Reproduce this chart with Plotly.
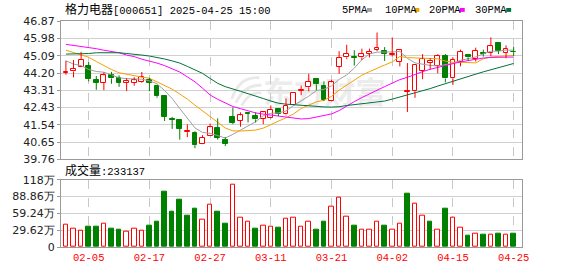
import base64
import plotly.graph_objects as go

# ---------------- data ----------------
dates = ["01-23", "01-24", "01-27",
         "02-05", "02-06", "02-07", "02-10", "02-11", "02-12", "02-13", "02-14", "02-17", "02-18",
         "02-19", "02-20", "02-21", "02-24", "02-25", "02-26", "02-27", "02-28",
         "03-03", "03-04", "03-05", "03-06", "03-07", "03-10", "03-11", "03-12", "03-13", "03-14",
         "03-17", "03-18", "03-19", "03-20", "03-21", "03-24", "03-25", "03-26", "03-27", "03-28", "03-31",
         "04-01", "04-02", "04-03", "04-07", "04-08", "04-09", "04-10", "04-11", "04-14", "04-15",
         "04-16", "04-17", "04-18", "04-21", "04-22", "04-23", "04-24", "04-25"]

open_ = [44.22, 44.28, 44.51, 44.54, 43.85, 43.70, 44.08, 43.95, 43.70, 43.70,
         43.74, 43.82, 43.52, 43.01, 41.84, 41.80, 41.16, 41.13, 40.53, 40.98,
         41.37, 40.78, 41.92, 41.74, 42.13, 41.97, 41.85, 41.90, 42.35, 42.07,
         42.56, 43.28, 43.47, 43.88, 43.55, 42.76, 44.51, 45.00, 45.02, 45.00,
         45.20, 45.40, 45.34, 45.15, 44.77, 43.24, 43.26, 44.30, 44.71, 44.58,
         45.07, 43.92, 44.74, 45.14, 44.91, 45.22, 45.24, 45.73, 45.24, 45.30]
high = [44.83, 44.87, 45.29, 44.76, 44.05, 44.23, 44.26, 44.08, 43.93, 43.98,
        44.25, 43.95, 43.59, 43.06, 41.95, 41.82, 41.57, 41.21, 41.01, 41.61,
        41.87, 40.91, 42.43, 42.18, 42.18, 42.18, 42.20, 42.53, 42.37, 42.89,
        43.20, 43.55, 44.16, 43.91, 43.77, 43.85, 45.32, 45.65, 45.37, 45.45,
        45.45, 46.28, 45.53, 46.03, 45.40, 44.71, 44.65, 45.17, 44.96, 45.17,
        45.17, 45.00, 45.40, 45.15, 45.50, 45.40, 46.03, 45.78, 45.62, 45.53]
low = [44.11, 43.97, 44.50, 43.77, 43.34, 43.32, 43.65, 43.49, 43.27, 43.55,
       43.70, 43.26, 42.93, 41.74, 41.33, 40.78, 40.91, 40.34, 40.52, 40.97,
       40.78, 40.45, 41.57, 41.44, 41.66, 41.66, 41.57, 41.87, 41.99, 42.02,
       42.55, 43.06, 43.26, 43.31, 42.76, 42.75, 44.16, 44.91, 44.58, 44.87,
       45.00, 45.32, 44.82, 45.04, 44.54, 42.20, 42.93, 43.88, 44.38, 44.18,
       43.72, 43.59, 44.54, 44.84, 44.79, 45.04, 45.07, 45.17, 44.96, 45.07]
close = [44.27, 44.43, 44.87, 43.88, 43.69, 44.08, 43.92, 43.69, 43.78, 43.82,
         43.98, 43.70, 43.01, 41.94, 41.80, 41.33, 41.24, 40.50, 40.88, 41.41,
         40.88, 40.55, 41.64, 42.02, 42.10, 41.82, 42.18, 42.30, 42.10, 42.51,
         43.19, 43.31, 43.75, 43.62, 42.81, 43.72, 44.99, 45.17, 44.99, 45.17,
         45.30, 45.48, 45.18, 45.20, 45.37, 43.28, 44.63, 44.91, 44.82, 45.07,
         43.92, 44.87, 45.29, 45.00, 45.34, 45.18, 45.57, 45.32, 45.43, 45.27]
prev_close = 44.10  # close of the session before the first bar (sets first volume colour)

# volume in 万 (10k shares)
volume_wan = [38.5, 32.8, 28.2, 35.1, 35.1, 40.2, 31.7, 30.0, 26.5, 32.8,
              28.2, 37.4, 43.7, 96.7, 62.5, 83.0, 54.5, 68.2, 48.8, 74.5,
              62.5, 41.9, 109.9, 52.2, 45.4, 31.7, 36.8, 35.1, 33.4, 50.5,
              52.2, 35.1, 43.7, 30.0, 43.7, 71.1, 86.5, 53.9, 36.8, 30.0,
              31.1, 43.7, 36.8, 31.1, 40.2, 93.3, 76.2, 55.6, 43.7, 30.0,
              67.6, 52.2, 34.5, 19.7, 23.1, 21.4, 21.4, 23.1, 21.4, 23.3137]

ma5 = [44.82, 44.66, 44.58, 44.38, 44.28, 44.24, 44.11, 43.95, 43.91, 43.91,
       43.88, 43.80, 43.65, 43.30, 42.89, 42.38, 41.88, 41.38, 41.15, 41.10,
       40.99, 40.86, 41.05, 41.27, 41.46, 41.70, 42.01, 42.13, 42.15, 42.25,
       42.53, 42.75, 43.01, 43.30, 43.36, 43.54, 43.87, 44.10, 44.45, 44.88,
       45.18, 45.27, 45.27, 45.28, 45.31, 44.95, 44.72, 44.65, 44.59, 44.56,
       44.62, 44.70, 44.85, 44.92, 45.02, 45.19, 45.32, 45.32, 45.38, 45.37]
ma10 = [45.37, 45.25, 45.15, 45.01, 44.79, 44.58, 44.38, 44.21, 44.13, 44.05,
        43.99, 43.93, 43.75, 43.55, 43.37, 43.12, 42.86, 42.55, 42.27, 41.98,
        41.67, 41.38, 41.23, 41.22, 41.24, 41.27, 41.37, 41.57, 41.73, 41.90,
        42.10, 42.38, 42.56, 42.72, 42.80, 43.00, 43.32, 43.58, 43.86, 44.09,
        44.27, 44.46, 44.61, 44.77, 45.05, 44.99, 44.97, 44.96, 44.95, 44.93,
        44.81, 44.75, 44.75, 44.73, 44.72, 44.93, 45.02, 45.05, 45.08, 45.10]
ma20 = [45.67, 45.62, 45.57, 45.53, 45.45, 45.37, 45.32, 45.24, 45.12, 45.04,
        44.91, 44.82, 44.71, 44.58, 44.41, 44.25, 44.00, 43.75, 43.42, 43.07,
        42.85, 42.67, 42.48, 42.37, 42.26, 42.15, 42.09, 42.04, 41.99, 41.94,
        41.88, 41.84, 41.86, 41.93, 42.00, 42.10, 42.27, 42.51, 42.73, 42.94,
        43.14, 43.32, 43.50, 43.68, 43.86, 43.98, 44.14, 44.27, 44.39, 44.50,
        44.58, 44.68, 44.77, 44.84, 44.92, 44.97, 45.00, 45.00, 45.01, 45.02]
ma30 = [45.17, 45.17, 45.20, 45.20, 45.24, 45.24, 45.24, 45.24, 45.20, 45.17,
        45.12, 45.07, 45.01, 44.92, 44.82, 44.71, 44.54, 44.38, 44.18, 43.92,
        43.67, 43.50, 43.36, 43.26, 43.14, 43.03, 42.89, 42.76, 42.65, 42.60,
        42.57, 42.53, 42.49, 42.48, 42.46, 42.45, 42.47, 42.53, 42.57, 42.61,
        42.66, 42.70, 42.76, 42.86, 42.97, 43.06, 43.16, 43.28, 43.40, 43.53,
        43.66, 43.79, 43.92, 44.03, 44.14, 44.26, 44.38, 44.47, 44.58, 44.69]

price_ticks = [39.76, 40.65, 41.54, 42.43, 43.31, 44.20, 45.09, 45.98, 46.87]
volume_ticks = [0, 29.62, 59.24, 88.86, 118.48]
volume_tick_labels = ["0", "29.62万", "59.24万", "88.86万", "118万"]
tick_dates = ["02-05", "02-17", "02-27", "03-11", "03-21", "04-02", "04-15", "04-25"]
stock_name = "格力电器"
stock_code = "[000651]"
timestamp = "2025-04-25 15:00"
volume_label = "成交量"
last_volume = "233137"
ma_names = ["5PMA", "10PMA", "20PMA", "30PMA"]
watermark = "东方财富"

# ---------------- styling ----------------
RED = "#ff0000"
GREEN = "#008000"
MA_COLORS = ["#a0a0a0", "#f5a000", "#ff00ff", "#00703c"]
BORDER = "#9a9a9a"
GRID = "#d0d0d0"
MONO = "Liberation Mono, Noto Sans CJK SC"

W, H = 578, 276
ML, MR, MT, MB = 55, 56, 21, 20
PW, PH = W - ML - MR, H - MT - MB


def px(x):
    return (x - ML) / PW


def py(y):
    return (H - MB - y) / PH


xi = list(range(len(dates)))
up = [c >= o for o, c in zip(open_, close)]
prev = [prev_close] + close[:-1]
vol_up = [c >= p for c, p in zip(close, prev)]

fig = go.Figure()

# MA lines
for name, vals, col in zip(ma_names, [ma5, ma10, ma20, ma30], MA_COLORS):
    fig.add_trace(go.Scatter(x=xi, y=vals, mode="lines", name=name,
                             line=dict(color=col, width=1),
                             xaxis="x", yaxis="y", hoverinfo="skip"))

# wicks
for want_up, col in ((True, RED), (False, GREEN)):
    xs, ys = [], []
    for i, o, h, l, c, u in zip(xi, open_, high, low, close, up):
        if u != want_up:
            continue
        top, bot = max(o, c), min(o, c)
        xs += [i, i, None, i, i, None]
        ys += [h, top, None, bot, l, None]
    fig.add_trace(go.Scatter(x=xs, y=ys, mode="lines", line=dict(color=col, width=1),
                             xaxis="x", yaxis="y", hoverinfo="skip"))

# bodies
fig.add_trace(go.Bar(
    x=xi, y=[abs(c - o) for o, c in zip(open_, close)], base=[min(o, c) for o, c in zip(open_, close)],
    width=0.64,
    marker=dict(color=["white" if u else GREEN for u in up],
                line=dict(color=[RED if u else GREEN for u in up], width=1)),
    xaxis="x", yaxis="y", hoverinfo="skip"))

# volume
fig.add_trace(go.Bar(
    x=xi, y=volume_wan, width=0.6,
    marker=dict(color=["white" if u else GREEN for u in vol_up],
                line=dict(color=[RED if u else GREEN for u in vol_up], width=1)),
    xaxis="x2", yaxis="y2", hoverinfo="skip"))

tickpos = [dates.index(d) for d in tick_dates]
xrange_ = [-0.65, len(dates) + 0.1]

common_x = dict(range=xrange_, tickvals=tickpos, showgrid=True, gridcolor="#c8c8c8",
                griddash="dash", gridwidth=1, showline=True, linecolor=BORDER, linewidth=1,
                mirror=True, zeroline=False, ticks="", fixedrange=True)
common_y = dict(showgrid=True, gridcolor=GRID, gridwidth=1, showline=True, linecolor=BORDER,
                linewidth=1, mirror=True, zeroline=False, ticks="outside", ticklen=3,
                tickcolor=BORDER, tickfont=dict(family="DejaVu Sans", size=11, color="#222"))

fig.update_layout(
    width=W, height=H, margin=dict(l=ML, r=MR, t=MT, b=MB),
    paper_bgcolor="white", plot_bgcolor="white", showlegend=False,
    barmode="overlay", bargap=0,
    xaxis=dict(domain=[0, 1], anchor="y", showticklabels=False, **common_x),
    yaxis=dict(domain=[py(165), 1], range=[price_ticks[0], price_ticks[-1]],
               tickvals=price_ticks, ticktext=[f"{v:.2f}" for v in price_ticks], **common_y),
    xaxis2=dict(domain=[0, 1], anchor="y2", ticktext=tick_dates,
                tickfont=dict(family=MONO, size=10.5, color=RED), **common_x),
    yaxis2=dict(domain=[0, py(186)], range=[volume_ticks[0], volume_ticks[-1]],
                tickvals=volume_ticks, ticktext=volume_tick_labels, **common_y),
)

annotations = [
    dict(text=f'<span style="font-size:12px">{stock_name}</span>{stock_code} {timestamp}',
         x=px(57), y=py(10), xanchor="left", yanchor="middle"),
    dict(text=f'<span style="font-size:12px">{volume_label}</span>:{last_volume}',
         x=px(57), y=py(177), xanchor="left", yanchor="middle"),
]
legend_left = [338, 381, 426, 472]
square_left = [365, 413, 459, 506]
for name, lx in zip(ma_names, legend_left):
    annotations.append(dict(text=name, x=px(lx), y=py(10), xanchor="left", yanchor="middle"))
for a in annotations:
    a.update(xref="paper", yref="paper", showarrow=False,
             font=dict(family=MONO, size=10.5, color="#000"))
fig.update_layout(annotations=annotations)

shapes = []
for sx, col in zip(square_left, MA_COLORS):
    shapes.append(dict(type="rect", xref="paper", yref="paper",
                       x0=px(sx), x1=px(sx + 5), y0=py(11.5), y1=py(7.5),
                       fillcolor=col, line=dict(width=0)))
fig.update_layout(shapes=shapes)

# faint watermark behind the data
svg = (
    '<svg xmlns="http://www.w3.org/2000/svg" width="160" height="42" viewBox="0 0 160 42">'
    '<g fill="none" stroke="#e9e9e9" stroke-width="3">'
    '<path d="M6 30 Q14 6 34 8"/><path d="M10 34 Q20 14 36 16"/><path d="M16 37 Q24 22 36 24"/>'
    '</g>'
    '<text x="38" y="34" font-family="Noto Sans CJK SC" font-weight="bold" font-size="31" '
    f'fill="#ececec">{watermark}</text></svg>'
)
src = "data:image/svg+xml;base64," + base64.b64encode(svg.encode("utf-8")).decode("ascii")
fig.add_layout_image(dict(source=src, xref="paper", yref="paper", x=px(222), y=py(72),
                          sizex=px(382) - px(222), sizey=py(72) - py(114),
                          xanchor="left", yanchor="top", sizing="stretch", layer="below"))

fig.write_html("out.html")
